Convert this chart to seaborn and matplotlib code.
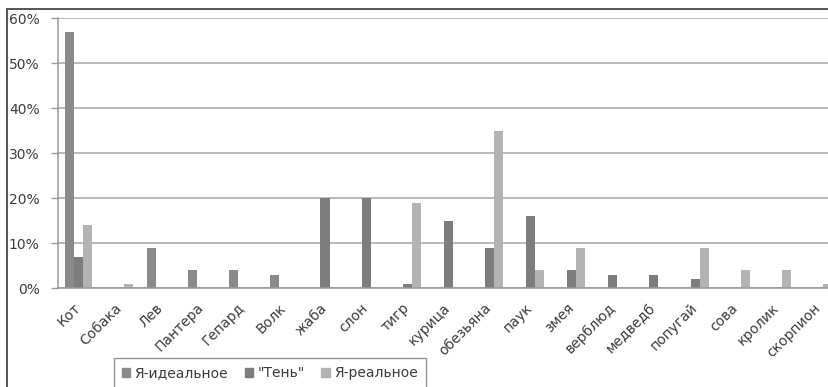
import matplotlib
matplotlib.use("Agg")
import matplotlib.pyplot as plt
from matplotlib.patches import Rectangle
from matplotlib.ticker import FuncFormatter, MultipleLocator, FixedLocator
from matplotlib.transforms import ScaledTranslation
import seaborn as sns
import pandas as pd

# Share of responses (%) per animal for each self-image
animals = ["Кот", "Собака", "Лев", "Пантера", "Гепард", "Волк", "жаба", "слон",
           "тигр", "курица", "обезьяна", "паук", "змея", "верблюд", "медведб",
           "попугай", "сова", "кролик", "скорпион"]
ideal = [57, 0, 9, 4, 4, 3, 0, 0, 0, 0, 0, 0, 0, 0, 0, 0, 0, 0, 0]
shadow = [7, 0, 0, 0, 0, 0, 20, 20, 1, 15, 9, 16, 4, 3, 3, 2, 0, 0, 0]
real = [14, 1, 0, 0, 0, 0, 0, 0, 19, 0, 35, 4, 9, 0, 0, 9, 4, 4, 1]
series = ["Я-идеальное", "\"Тень\"", "Я-реальное"]
colors = ["#8a8a8a", "#7d7d7d", "#b3b3b3"]

df = pd.DataFrame({
    "animal": animals * 3,
    "series": [series[0]] * len(animals) + [series[1]] * len(animals) + [series[2]] * len(animals),
    "value": ideal + shadow + real,
})

sns.set_theme(style="white")
plt.rcParams["font.family"] = ["DejaVu Sans"]

W, H = 829, 387
fig = plt.figure(figsize=(W / 100, H / 100), dpi=100)
ax = fig.add_axes([57.7 / W, 1 - 288.3 / H, (839 - 57.7) / W, (288.3 - 18.3) / H])

sns.barplot(data=df, x="animal", y="value", hue="series", order=animals,
            hue_order=series, palette=colors, width=0.66, saturation=1,
            ax=ax, legend=False, linewidth=0)

ax.set_xlim(-0.5, len(animals) - 0.5)
ax.set_ylim(0, 60)
ax.yaxis.set_major_locator(MultipleLocator(10))
ax.yaxis.set_major_formatter(FuncFormatter(lambda v, p: f"{int(v)}%"))
ax.grid(axis="y", color="#a6a6a6", linewidth=1.1)
ax.set_axisbelow(True)
ax.set_xlabel("")
ax.set_ylabel("")

for s in ["top", "right"]:
    ax.spines[s].set_visible(False)
for s in ["left", "bottom"]:
    ax.spines[s].set_color("#9a9a9a")
    ax.spines[s].set_linewidth(1.1)

# category labels at centres, tick marks at category boundaries
ax.tick_params(axis="x", which="major", length=0, pad=6, labelsize=10, colors="#3c3c3c")
ax.xaxis.set_minor_locator(FixedLocator([i - 0.5 for i in range(len(animals) + 1)]))
ax.tick_params(axis="x", which="minor", length=5, width=1, color="#9a9a9a", direction="out")
shift = ScaledTranslation(-5 / 100, -4 / 100, fig.dpi_scale_trans)
for lbl in ax.get_xticklabels():
    lbl.set_rotation(45)
    lbl.set_ha("right")
    lbl.set_rotation_mode("anchor")
    lbl.set_transform(lbl.get_transform() + shift)
ax.tick_params(axis="y", length=5, width=1, color="#9a9a9a", direction="out",
               labelsize=10, labelcolor="#3c3c3c", pad=8, left=True)

# chart area border
fig.patches.append(Rectangle((7 / W, -0.2), 1.2, 1.2 - 9 / H,
                             transform=fig.transFigure, fill=False,
                             edgecolor="#555555", linewidth=1.4))

handles = [Rectangle((0, 0), 1, 1, color=c) for c in colors]
leg = fig.legend(handles, series, loc="upper left",
                 bbox_to_anchor=(113.7 / W, 1 - 357.7 / H), ncol=3,
                 frameon=True, fancybox=False, fontsize=10, borderaxespad=0,
                 handlelength=0.6, handleheight=0.6, handletextpad=0.3,
                 columnspacing=1.2, borderpad=0.6)
leg.get_frame().set_edgecolor("#7a7a7a")
leg.get_frame().set_linewidth(1.0)
for t in leg.get_texts():
    t.set_color("#3c3c3c")

fig.savefig("out.png", dpi=100)
